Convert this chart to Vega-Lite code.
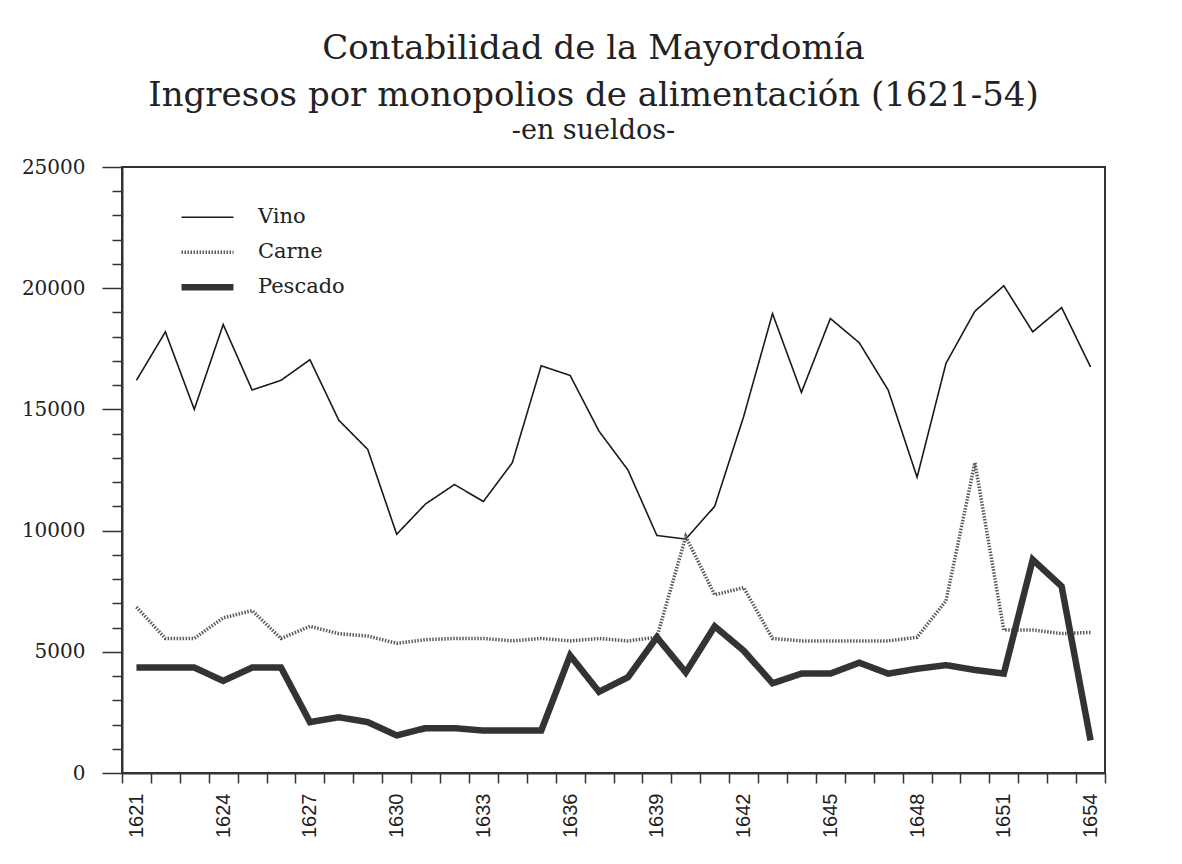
{
  "$schema": "https://vega.github.io/schema/vega-lite/v6.json",
  "width": 983,
  "height": 606,
  "autosize": {"type": "none"},
  "padding": {"left": 122, "top": 167, "right": 77, "bottom": 91},
  "background": "white",
  "title": {
    "text": ["Contabilidad de la Mayordomía", "Ingresos por monopolios de alimentación (1621-54)"],
    "subtitle": "-en sueldos-",
    "font": "DejaVu Serif",
    "fontSize": 34,
    "fontWeight": "normal",
    "lineHeight": 47,
    "color": "#222",
    "subtitleFont": "DejaVu Serif",
    "subtitleFontSize": 27,
    "subtitleColor": "#222",
    "subtitlePadding": 5,
    "anchor": "middle",
    "dx": -20,
    "offset": 13
  },
  "data": {
    "values": [
      {"year": 1621, "series": "Vino", "value": 16200},
      {"year": 1622, "series": "Vino", "value": 18200},
      {"year": 1623, "series": "Vino", "value": 15000},
      {"year": 1624, "series": "Vino", "value": 18500},
      {"year": 1625, "series": "Vino", "value": 15800},
      {"year": 1626, "series": "Vino", "value": 16200},
      {"year": 1627, "series": "Vino", "value": 17050},
      {"year": 1628, "series": "Vino", "value": 14550},
      {"year": 1629, "series": "Vino", "value": 13350},
      {"year": 1630, "series": "Vino", "value": 9850},
      {"year": 1631, "series": "Vino", "value": 11100},
      {"year": 1632, "series": "Vino", "value": 11900},
      {"year": 1633, "series": "Vino", "value": 11200},
      {"year": 1634, "series": "Vino", "value": 12800},
      {"year": 1635, "series": "Vino", "value": 16800},
      {"year": 1636, "series": "Vino", "value": 16400},
      {"year": 1637, "series": "Vino", "value": 14100},
      {"year": 1638, "series": "Vino", "value": 12500},
      {"year": 1639, "series": "Vino", "value": 9800},
      {"year": 1640, "series": "Vino", "value": 9650},
      {"year": 1641, "series": "Vino", "value": 11000},
      {"year": 1642, "series": "Vino", "value": 14700},
      {"year": 1643, "series": "Vino", "value": 18950},
      {"year": 1644, "series": "Vino", "value": 15700},
      {"year": 1645, "series": "Vino", "value": 18750},
      {"year": 1646, "series": "Vino", "value": 17750},
      {"year": 1647, "series": "Vino", "value": 15800},
      {"year": 1648, "series": "Vino", "value": 12200},
      {"year": 1649, "series": "Vino", "value": 16900},
      {"year": 1650, "series": "Vino", "value": 19050},
      {"year": 1651, "series": "Vino", "value": 20100},
      {"year": 1652, "series": "Vino", "value": 18200},
      {"year": 1653, "series": "Vino", "value": 19200},
      {"year": 1654, "series": "Vino", "value": 16750},
      {"year": 1621, "series": "Carne", "value": 6850},
      {"year": 1622, "series": "Carne", "value": 5550},
      {"year": 1623, "series": "Carne", "value": 5550},
      {"year": 1624, "series": "Carne", "value": 6400},
      {"year": 1625, "series": "Carne", "value": 6700},
      {"year": 1626, "series": "Carne", "value": 5550},
      {"year": 1627, "series": "Carne", "value": 6050},
      {"year": 1628, "series": "Carne", "value": 5750},
      {"year": 1629, "series": "Carne", "value": 5650},
      {"year": 1630, "series": "Carne", "value": 5350},
      {"year": 1631, "series": "Carne", "value": 5500},
      {"year": 1632, "series": "Carne", "value": 5550},
      {"year": 1633, "series": "Carne", "value": 5550},
      {"year": 1634, "series": "Carne", "value": 5450},
      {"year": 1635, "series": "Carne", "value": 5550},
      {"year": 1636, "series": "Carne", "value": 5450},
      {"year": 1637, "series": "Carne", "value": 5550},
      {"year": 1638, "series": "Carne", "value": 5450},
      {"year": 1639, "series": "Carne", "value": 5600},
      {"year": 1640, "series": "Carne", "value": 9750},
      {"year": 1641, "series": "Carne", "value": 7350},
      {"year": 1642, "series": "Carne", "value": 7650},
      {"year": 1643, "series": "Carne", "value": 5550},
      {"year": 1644, "series": "Carne", "value": 5450},
      {"year": 1645, "series": "Carne", "value": 5450},
      {"year": 1646, "series": "Carne", "value": 5450},
      {"year": 1647, "series": "Carne", "value": 5450},
      {"year": 1648, "series": "Carne", "value": 5600},
      {"year": 1649, "series": "Carne", "value": 7100},
      {"year": 1650, "series": "Carne", "value": 12800},
      {"year": 1651, "series": "Carne", "value": 5900},
      {"year": 1652, "series": "Carne", "value": 5900},
      {"year": 1653, "series": "Carne", "value": 5750},
      {"year": 1654, "series": "Carne", "value": 5800},
      {"year": 1621, "series": "Pescado", "value": 4350},
      {"year": 1622, "series": "Pescado", "value": 4350},
      {"year": 1623, "series": "Pescado", "value": 4350},
      {"year": 1624, "series": "Pescado", "value": 3800},
      {"year": 1625, "series": "Pescado", "value": 4350},
      {"year": 1626, "series": "Pescado", "value": 4350},
      {"year": 1627, "series": "Pescado", "value": 2100},
      {"year": 1628, "series": "Pescado", "value": 2300},
      {"year": 1629, "series": "Pescado", "value": 2100},
      {"year": 1630, "series": "Pescado", "value": 1550},
      {"year": 1631, "series": "Pescado", "value": 1850},
      {"year": 1632, "series": "Pescado", "value": 1850},
      {"year": 1633, "series": "Pescado", "value": 1750},
      {"year": 1634, "series": "Pescado", "value": 1750},
      {"year": 1635, "series": "Pescado", "value": 1750},
      {"year": 1636, "series": "Pescado", "value": 4850},
      {"year": 1637, "series": "Pescado", "value": 3350},
      {"year": 1638, "series": "Pescado", "value": 3950},
      {"year": 1639, "series": "Pescado", "value": 5600},
      {"year": 1640, "series": "Pescado", "value": 4150},
      {"year": 1641, "series": "Pescado", "value": 6050},
      {"year": 1642, "series": "Pescado", "value": 5050},
      {"year": 1643, "series": "Pescado", "value": 3700},
      {"year": 1644, "series": "Pescado", "value": 4100},
      {"year": 1645, "series": "Pescado", "value": 4100},
      {"year": 1646, "series": "Pescado", "value": 4550},
      {"year": 1647, "series": "Pescado", "value": 4100},
      {"year": 1648, "series": "Pescado", "value": 4300},
      {"year": 1649, "series": "Pescado", "value": 4450},
      {"year": 1650, "series": "Pescado", "value": 4250},
      {"year": 1651, "series": "Pescado", "value": 4100},
      {"year": 1652, "series": "Pescado", "value": 8800},
      {"year": 1653, "series": "Pescado", "value": 7700},
      {"year": 1654, "series": "Pescado", "value": 1350}
    ]
  },
  "mark": {"type": "line", "strokeJoin": "miter", "strokeCap": "butt"},
  "encoding": {
    "x": {
      "field": "year",
      "type": "ordinal",
      "bandPosition": 0.5,
      "scale": {"type": "band", "paddingInner": 0, "paddingOuter": 0},
      "axis": {
        "title": null,
        "labelAngle": -90,
        "labelAlign": "right",
        "labelBaseline": "middle",
        "labelFont": "Liberation Sans",
        "labelFontSize": 20,
        "labelColor": "#222",
        "labelPadding": 10,
        "labelExpr": "(toNumber(datum.value) - 1621) % 3 == 0 ? datum.label : ''",
        "tickBand": "extent",
        "tickSize": 10,
        "tickWidth": 1.5,
        "tickColor": "#333",
        "domainColor": "#333",
        "domainWidth": 2,
        "labelOverlap": false
      }
    },
    "y": {
      "field": "value",
      "type": "quantitative",
      "scale": {"domain": [0, 25000], "nice": false, "zero": true},
      "axis": {
        "title": null,
        "grid": false,
        "values": [0, 1000, 2000, 3000, 4000, 5000, 6000, 7000, 8000, 9000, 10000, 11000, 12000, 13000, 14000, 15000, 16000, 17000, 18000, 19000, 20000, 21000, 22000, 23000, 24000, 25000],
        "labelExpr": "datum.value % 5000 == 0 ? format(datum.value, 'd') : ''",
        "labelFont": "DejaVu Serif",
        "labelFontSize": 20,
        "labelColor": "#222",
        "labelPadding": 17,
        "tickSize": {"condition": {"test": "datum.value % 5000 == 0", "value": 20}, "value": 10},
        "tickWidth": 1.5,
        "tickColor": "#333",
        "domainColor": "#333",
        "domainWidth": 2,
        "labelOverlap": false
      }
    },
    "color": {
      "field": "series",
      "type": "nominal",
      "scale": {"domain": ["Vino", "Carne", "Pescado"], "range": ["#1a1a1a", "#5a5a5a", "#333333"]},
      "legend": {
        "title": null,
        "orient": "none",
        "legendX": 56,
        "legendY": 33,
        "symbolType": "stroke",
        "symbolSize": 2700,
        "labelFont": "DejaVu Serif",
        "labelFontSize": 21,
        "labelColor": "#222",
        "labelOffset": 21,
        "clipHeight": 34.5,
        "rowPadding": 0
      }
    },
    "strokeDash": {
      "field": "series",
      "type": "nominal",
      "scale": {"domain": ["Vino", "Carne", "Pescado"], "range": [[1, 0], [1.5, 1.5], [1, 0]]},
      "legend": null
    },
    "strokeWidth": {
      "field": "series",
      "type": "nominal",
      "scale": {"type": "ordinal", "domain": ["Vino", "Carne", "Pescado"], "range": [1.6, 3.5, 6.5]},
      "legend": null
    }
  },
  "config": {
    "view": {"stroke": "#333", "strokeWidth": 2},
    "font": "DejaVu Serif"
  }
}
